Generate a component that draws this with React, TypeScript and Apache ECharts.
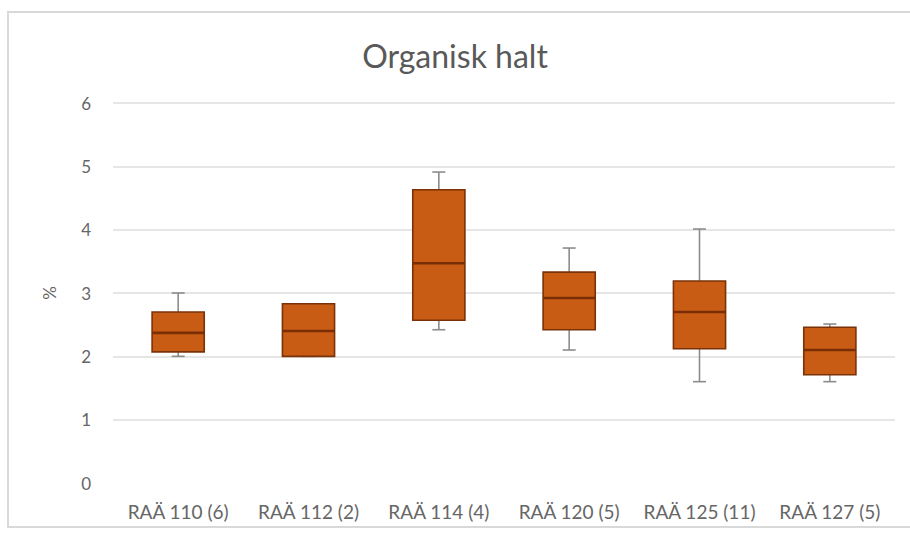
import React, { useEffect, useRef } from "react";
import * as echarts from "echarts";

const categories = ["RAÄ 110 (6)", "RAÄ 112 (2)", "RAÄ 114 (4)", "RAÄ 120 (5)", "RAÄ 125 (11)", "RAÄ 127 (5)"];
const minValues = [2.0, 2.0, 2.42, 2.1, 1.6, 1.6];
const q1Values = [2.07, 2.0, 2.57, 2.42, 2.12, 1.71];
const medianValues = [2.37, 2.4, 3.47, 2.92, 2.7, 2.1];
const q3Values = [2.7, 2.83, 4.63, 3.33, 3.19, 2.46];
const maxValues = [3.0, 2.83, 4.91, 3.71, 4.01, 2.51];
const yTicks = [0, 1, 2, 3, 4, 5, 6];

const FONT = "Lato";

export default function App() {
  const ref = useRef<HTMLDivElement>(null);
  useEffect(() => {
    if (!ref.current) return;
    const chart = echarts.init(ref.current, undefined, { renderer: "svg" });
    const data = categories.map((_, i) => [i, minValues[i], q1Values[i], medianValues[i], q3Values[i], maxValues[i]]);
    chart.setOption({
      animation: false,
      backgroundColor: "#ffffff",
      title: {
        text: "Organisk halt",
        left: "center",
        top: 34,
        textStyle: { fontFamily: FONT, fontSize: 32, fontWeight: "normal", color: "#595959" },
      },
      graphic: [
        {
          type: "rect",
          shape: { x: 8, y: 12, width: 920, height: 515 },
          style: { fill: "none", stroke: "#d9d9d9", lineWidth: 2 },
          silent: true,
          z: -10,
        },
      ],
      grid: { left: 113, right: 15, top: 103, bottom: 50 },
      xAxis: {
        type: "category",
        data: categories,
        axisLine: { show: false },
        axisTick: { show: false },
        axisLabel: { fontFamily: FONT, fontSize: 19, color: "#666666", margin: 19, interval: 0 },
        splitLine: { show: false },
      },
      yAxis: {
        type: "value",
        min: yTicks[0],
        max: yTicks[yTicks.length - 1],
        interval: 1,
        name: "%",
        nameLocation: "middle",
        nameRotate: 90,
        nameGap: 55,
        nameTextStyle: { fontFamily: FONT, fontSize: 17, color: "#666666" },
        axisLine: { show: false },
        axisTick: { show: false },
        axisLabel: { fontFamily: FONT, fontSize: 17, color: "#666666", margin: 22 },
        splitLine: { show: true, showMinLine: false, lineStyle: { color: "#e6e6e6", width: 2 } },
      },
      series: [
        {
          type: "custom",
          data,
          encode: { x: 0, y: [1, 2, 3, 4, 5] },
          renderItem: (params: any, api: any) => {
            const idx = api.value(0);
            const pMin = api.coord([idx, api.value(1)]);
            const pQ1 = api.coord([idx, api.value(2)]);
            const pMed = api.coord([idx, api.value(3)]);
            const pQ3 = api.coord([idx, api.value(4)]);
            const pMax = api.coord([idx, api.value(5)]);
            const bandW = api.size([1, 0])[0];
            const boxW = bandW * 0.4;
            const capW = 13;
            const x = pMed[0];
            const whisker = { stroke: "#8c8c8c", lineWidth: 1.6 };
            return {
              type: "group",
              children: [
                { type: "line", shape: { x1: x, y1: pMax[1], x2: x, y2: pQ3[1] }, style: whisker },
                { type: "line", shape: { x1: x, y1: pQ1[1], x2: x, y2: pMin[1] }, style: whisker },
                { type: "line", shape: { x1: x - capW / 2, y1: pMax[1], x2: x + capW / 2, y2: pMax[1] }, style: whisker },
                { type: "line", shape: { x1: x - capW / 2, y1: pMin[1], x2: x + capW / 2, y2: pMin[1] }, style: whisker },
                {
                  type: "rect",
                  shape: { x: x - boxW / 2, y: pQ3[1], width: boxW, height: pQ1[1] - pQ3[1] },
                  style: { fill: "#c95c14", stroke: "#7a3208", lineWidth: 1.6 },
                },
                {
                  type: "line",
                  shape: { x1: x - boxW / 2, y1: pMed[1], x2: x + boxW / 2, y2: pMed[1] },
                  style: { stroke: "#7a2e06", lineWidth: 2.6 },
                },
              ],
            };
          },
        },
      ],
    });
    return () => chart.dispose();
  }, []);
  return <div ref={ref} style={{ position: "fixed", left: 0, top: 0, width: 910, height: 533 }} />;
}
